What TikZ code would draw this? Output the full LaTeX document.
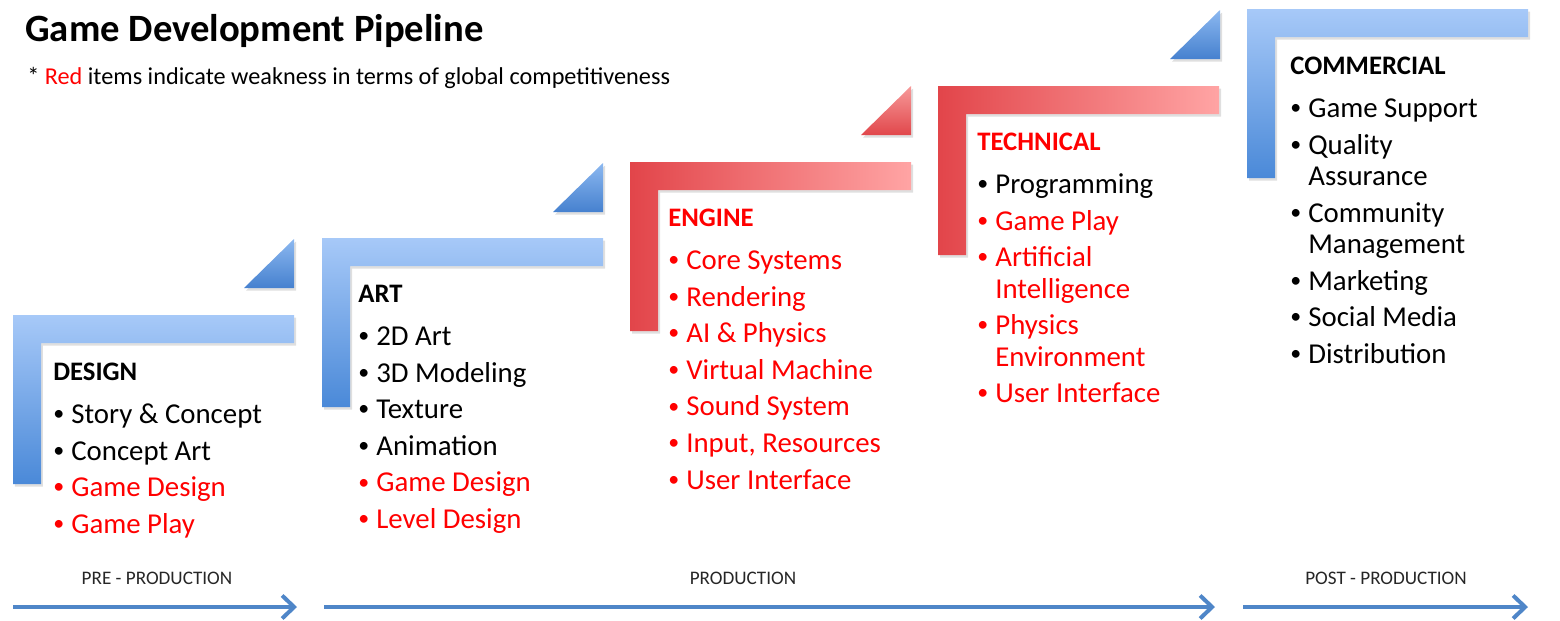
\documentclass[tikz,border=0pt]{standalone}
\usepackage{fontspec}
\setmainfont{Carlito}
\usetikzlibrary{positioning,arrows.meta,shadows}

\definecolor{barlight}{HTML}{A7C9F8}
\definecolor{bardark}{HTML}{4A89D8}
\definecolor{redleft}{HTML}{E2454A}
\definecolor{redright}{HTML}{FFA4A4}
\definecolor{trilight}{HTML}{8CB8F0}
\definecolor{tridark}{HTML}{4681CF}
\definecolor{redtritop}{HTML}{F79A9A}
\definecolor{redtribot}{HTML}{E1474B}
\definecolor{phaseblue}{HTML}{4F86C8}
\definecolor{weak}{HTML}{FF0000}

\newcommand{\itembul}{\strut\makebox[0.36cm][l]{\raisebox{0.055cm}{\fontsize{12.5}{12.5}\selectfont\textbullet}}}
\newcommand{\itemcont}{\strut\hspace*{0.36cm}}

\begin{document}
\begin{tikzpicture}[x=0.02cm, y=-0.02cm]

  \tikzstyle{shade} = [drop shadow={opacity=0.25, shadow xshift=0.04cm, shadow yshift=-0.05cm}]
  \tikzstyle{bluebar} = [shade, top color=barlight, bottom color=bardark]
  \tikzstyle{redbar} = [shade, left color=redleft, right color=redright]
  \tikzstyle{bluetri} = [shade, top color=trilight, bottom color=tridark]
  \tikzstyle{redtri} = [shade, top color=redtritop, bottom color=redtribot]
  \tikzstyle{stage} = [anchor=base west, inner sep=0pt, font=\bfseries\fontsize{15.2}{18}\selectfont]
  \tikzstyle{item} = [anchor=north west, inner xsep=0pt, inner ysep=0.045cm, align=left, font=\fontsize{16.4}{17.86}\selectfont]
  \tikzstyle{weakitem} = [item, text=weak]
  \tikzstyle{phase} = [line width=0.08cm, phaseblue, -{Straight Barb[length=0.24cm, width=0.46cm]}]
  \tikzstyle{phaselbl} = [inner sep=0pt, text=black!85, font=\fontsize{10.9}{13}\selectfont]

  \useasboundingbox (0,0) rectangle (1560,620);

  \foreach \x/\y/\s in {13/315/bluebar, 322/238/bluebar, 630/162/redbar, 938/86/redbar, 1247/9/bluebar}
    \path[\s] (\x,\y) -- (\x+281,\y) -- (\x+281,\y+28) -- (\x+28,\y+28) -- (\x+28,\y+169) -- (\x,\y+169) -- cycle;
  \foreach \x/\y/\s in {294/288/bluetri, 603/212/bluetri, 911/135/redtri, 1220/59/bluetri}
    \path[\s] (\x-50,\y) -- (\x,\y) -- (\x,\y-49) -- cycle;

  \node[anchor=base west, inner sep=0pt, font=\bfseries\fontsize{22}{26}\selectfont] (head) at (25,41) {Game Development Pipeline};
  \node[anchor=base west, inner sep=0pt, font=\fontsize{13.8}{16}\selectfont] (note) at (27,84) {* \textcolor{weak}{Red} items indicate weakness in terms of global competitiveness};

  \node[stage] (design) at (53,380) {DESIGN};
  \node[item] (d1) at ([yshift=-0.38cm]design.base west) {\itembul Story \& Concept};
  \node[item] (d2) at (d1.south west) {\itembul Concept Art};
  \node[weakitem] (d3) at (d2.south west) {\itembul Game Design};
  \node[weakitem] (d4) at (d3.south west) {\itembul Game Play};

  \node[stage] (art) at (358,302) {ART};
  \node[item] (a1) at ([yshift=-0.38cm]art.base west) {\itembul 2D Art};
  \node[item] (a2) at (a1.south west) {\itembul 3D Modeling};
  \node[item] (a3) at (a2.south west) {\itembul Texture};
  \node[item] (a4) at (a3.south west) {\itembul Animation};
  \node[weakitem] (a5) at (a4.south west) {\itembul Game Design};
  \node[weakitem] (a6) at (a5.south west) {\itembul Level Design};

  \node[stage, text=weak] (engine) at (668,226) {ENGINE};
  \node[weakitem] (e1) at ([yshift=-0.38cm]engine.base west) {\itembul Core Systems};
  \node[weakitem] (e2) at (e1.south west) {\itembul Rendering};
  \node[weakitem] (e3) at (e2.south west) {\itembul AI \& Physics};
  \node[weakitem] (e4) at (e3.south west) {\itembul Virtual Machine};
  \node[weakitem] (e5) at (e4.south west) {\itembul Sound System};
  \node[weakitem] (e6) at (e5.south west) {\itembul Input, Resources};
  \node[weakitem] (e7) at (e6.south west) {\itembul User Interface};

  \node[stage, text=weak] (technical) at (977,150) {TECHNICAL};
  \node[item] (t1) at ([yshift=-0.38cm]technical.base west) {\itembul Programming};
  \node[weakitem] (t2) at (t1.south west) {\itembul Game Play};
  \node[weakitem] (t3) at (t2.south west) {\itembul Artificial\\\itemcont Intelligence};
  \node[weakitem] (t4) at (t3.south west) {\itembul Physics\\\itemcont Environment};
  \node[weakitem] (t5) at (t4.south west) {\itembul User Interface};

  \node[stage] (commercial) at (1290,74) {COMMERCIAL};
  \node[item] (c1) at ([yshift=-0.38cm]commercial.base west) {\itembul Game Support};
  \node[item] (c2) at (c1.south west) {\itembul Quality\\\itemcont Assurance};
  \node[item] (c3) at (c2.south west) {\itembul Community\\\itemcont Management};
  \node[item] (c4) at (c3.south west) {\itembul Marketing};
  \node[item] (c5) at (c4.south west) {\itembul Social Media};
  \node[item] (c6) at (c5.south west) {\itembul Distribution};

  \coordinate (preA) at (13,607);
  \coordinate (preB) at (297,607);
  \coordinate (prodA) at (324,607);
  \coordinate (prodB) at (1215,607);
  \coordinate (postA) at (1243,607);
  \coordinate (postB) at (1528,607);
  \draw[phase] (preA) -- (preB);
  \draw[phase] (prodA) -- (prodB);
  \draw[phase] (postA) -- (postB);
  \node[phaselbl] (prelbl) at (157,578) {PRE - PRODUCTION};
  \node[phaselbl] (prodlbl) at (743,578) {PRODUCTION};
  \node[phaselbl] (postlbl) at (1386,578) {POST - PRODUCTION};
\end{tikzpicture}
\end{document}
